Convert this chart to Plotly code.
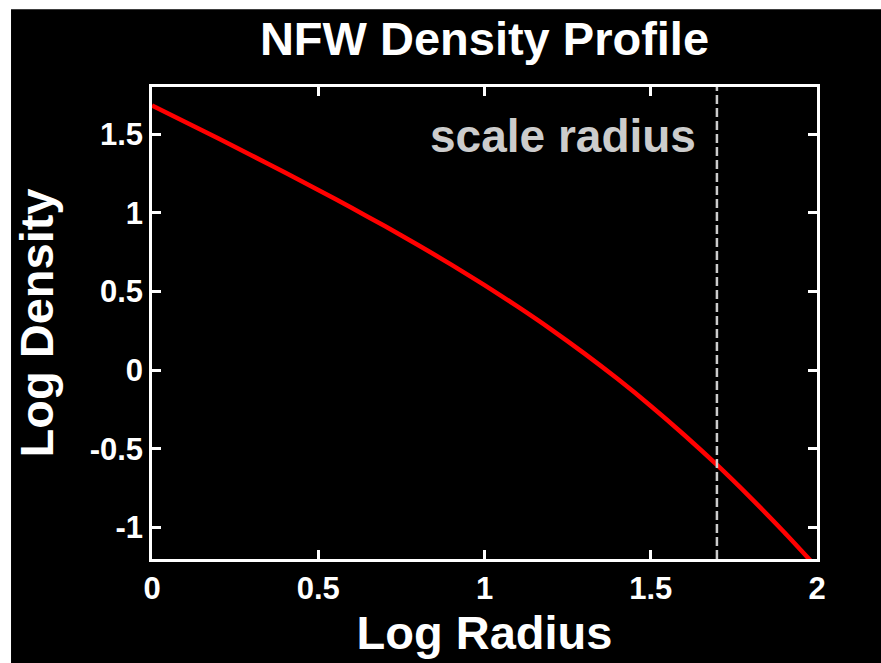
import plotly.graph_objects as go

# Log radius / log density samples along the NFW profile
log_radius = [0.0, 0.1, 0.2, 0.3, 0.4, 0.5, 0.6, 0.7, 0.8, 0.9, 1.0,
              1.1, 1.2, 1.3, 1.4, 1.5, 1.6, 1.7, 1.8, 1.9, 2.0]
log_density = [1.682, 1.577, 1.472, 1.365, 1.256, 1.146, 1.032, 0.916, 0.796, 0.671, 0.541,
               0.404, 0.260, 0.107, -0.055, -0.227, -0.410, -0.604, -0.810, -1.027, -1.255]

# Position of the scale radius (log r_s)
scale_radius_log = 1.699

x_ticks = [0, 0.5, 1, 1.5, 2]
x_tick_text = ["0", "0.5", "1", "1.5", "2"]
y_ticks = [-1, -0.5, 0, 0.5, 1, 1.5]
y_tick_text = ["-1", "-0.5", "0", "0.5", "1", "1.5"]

FONT = "Liberation Sans, Arial, Helvetica, sans-serif"

fig = go.Figure()

fig.add_trace(go.Scatter(
    x=log_radius, y=log_density, mode="lines",
    line=dict(color="#ff0000", width=4.5, shape="spline", smoothing=0.6),
    showlegend=False, hoverinfo="skip",
))

# Dashed marker at the scale radius
fig.add_shape(
    type="line", xref="x", yref="paper",
    x0=scale_radius_log, x1=scale_radius_log, y0=0, y1=1,
    line=dict(color="#cccccc", width=2.5, dash="9px,4px"),
)

fig.add_annotation(
    text="scale radius", x=1.643, y=1.49, xref="x", yref="y",
    xanchor="right", yanchor="middle", showarrow=False,
    font=dict(family=FONT, size=46, color="#cccccc", weight="bold"),
)

# White strips along the top and left edges of the page
fig.add_shape(type="rect", xref="paper", yref="paper",
              x0=-0.3, x1=-0.2120, y0=-0.4, y1=1.4,
              fillcolor="white", line=dict(width=0), layer="above")
fig.add_shape(type="rect", xref="paper", yref="paper",
              x0=-0.3, x1=1.2, y0=1.1646, y1=1.4,
              fillcolor="white", line=dict(width=0), layer="above")

axis_common = dict(
    showgrid=False, zeroline=False,
    showline=True, linecolor="white", linewidth=2.5,
    mirror="ticks", ticks="inside", ticklen=9, tickwidth=2.5, tickcolor="white",
    tickfont=dict(family=FONT, size=31, color="white", weight="bold"),
)

fig.update_xaxes(
    range=[0, 2], tickvals=x_ticks, ticktext=x_tick_text,
    title=dict(text="Log Radius", standoff=12,
               font=dict(family=FONT, size=47, color="white", weight="bold")),
    **axis_common,
)
fig.update_yaxes(
    range=[-1.2, 1.8], tickvals=y_ticks, ticktext=y_tick_text,
    title=dict(text="Log Density", standoff=22,
               font=dict(family=FONT, size=47, color="white", weight="bold")),
    **axis_common,
)

fig.update_layout(
    width=881, height=663,
    margin=dict(l=152, r=64, t=87, b=102),
    paper_bgcolor="black", plot_bgcolor="black",
    title=dict(text="NFW Density Profile", x=0.5, xref="paper",
               y=1 - 39 / 663, yref="container", yanchor="middle",
               font=dict(family=FONT, size=47, color="white", weight="bold")),
)

fig.write_html("out.html")
